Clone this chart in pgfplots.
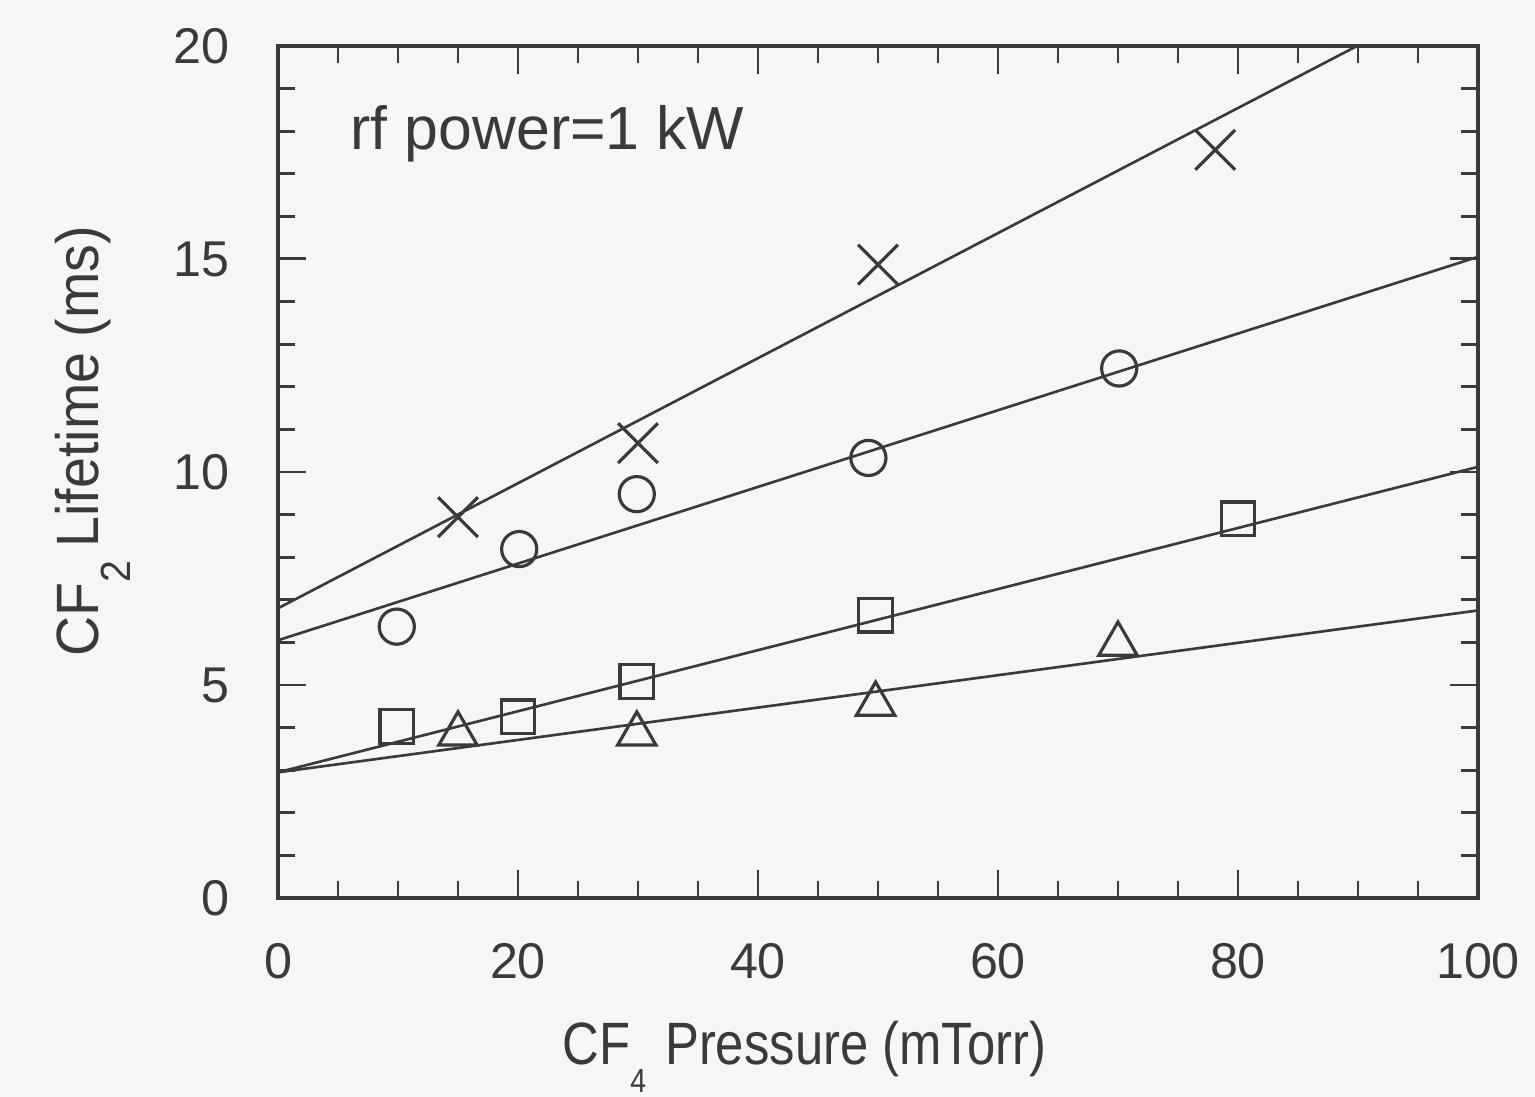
\documentclass[border=0pt]{standalone}
\usepackage{fontspec}
\setmainfont{Liberation Sans}
\newfontfamily\xlabfont[FakeStretch=0.85]{Liberation Sans}
\newfontfamily\ylabfont[FakeStretch=0.93]{Liberation Sans}
\usepackage{pgfplots}
\pgfplotsset{compat=1.18}
\definecolor{ink}{RGB}{58,58,58}
\definecolor{bg}{RGB}{247,246,247}
\begin{document}
\begin{tikzpicture}
\fill[bg] (-27.8mm,-19.9mm) rectangle (125.7mm,89.8mm);
\useasboundingbox (-27.8mm,-19.9mm) rectangle (125.7mm,89.8mm);
\begin{axis}[
  at={(0,0)}, anchor=south west,
  scale only axis, width=120mm, height=85.2mm,
  xmin=0, xmax=100, ymin=0, ymax=20,
  xtick={0,20,...,100}, ytick={0,5,...,20},
  minor x tick num=3, minor y tick num=4,
  tick align=inside,
  major tick length=2.8mm, minor tick length=1.7mm,
  axis line style={ink, line width=0.9pt},
  tick style={ink, line width=0.85pt},
  tick label style={font=\fontsize{14.3}{14.3}\selectfont, text=ink},
  /pgf/number format/assume math mode=true,
  xticklabel style={inner sep=0pt, yshift=-4.5mm},
  yticklabel style={inner sep=0pt, xshift=-4.8mm},
  xlabel={\xlabfont CF\raisebox{-2.8mm}{\fontsize{9.5}{9.5}\selectfont 4}\hspace{1.9mm}Pressure (mTorr)},
  ylabel={\ylabfont CF\raisebox{-3.2mm}{\fontsize{12}{12}\selectfont 2}\hspace{1.3mm}Lifetime (ms)},
  xlabel style={at={(axis description cs:0.2367,-0.196)}, anchor=base west, inner sep=0pt, text=ink, font=\fontsize{17}{17}\selectfont},
  ylabel style={at={(axis description cs:-0.15,0.283)}, anchor=base west, inner sep=0pt, text=ink, font=\fontsize{17}{17}\selectfont},
]
% fit lines
\addplot[ink, line width=0.75pt] coordinates {(0,6.8) (100,21.48)};
\addplot[ink, line width=0.75pt] coordinates {(0,6.05) (100,15.05)};
\addplot[ink, line width=0.75pt] coordinates {(0,2.95) (100,10.12)};
\addplot[ink, line width=0.75pt] coordinates {(0,2.95) (100,6.75)};
% data
\addplot[only marks, mark=x, mark size=8pt, ink, line width=0.9pt]
  coordinates {(15,8.94) (30,10.68) (50,14.87) (78.1,17.56)};
\addplot[only marks, mark=o, mark size=5pt, ink, line width=0.9pt]
  coordinates {(9.9,6.37) (20.1,8.19) (29.9,9.48) (49.2,10.33) (70.1,12.43)};
\addplot[only marks, mark=square, mark size=4.8pt, ink, line width=0.9pt]
  coordinates {(9.9,4.02) (20.0,4.25) (29.9,5.08) (49.8,6.64) (80.0,8.9)};
\addplot[only marks, mark=triangle, mark size=6.3pt, ink, line width=0.9pt]
  coordinates {(15,3.85) (29.9,3.85) (49.8,4.55) (70,5.96)};
\node[anchor=base west, inner sep=0pt, text=ink, font=\fontsize{17.3}{17.3}\selectfont] at (axis cs:6,17.56) {rf power=1 kW};
\end{axis}
\end{tikzpicture}
\end{document}
